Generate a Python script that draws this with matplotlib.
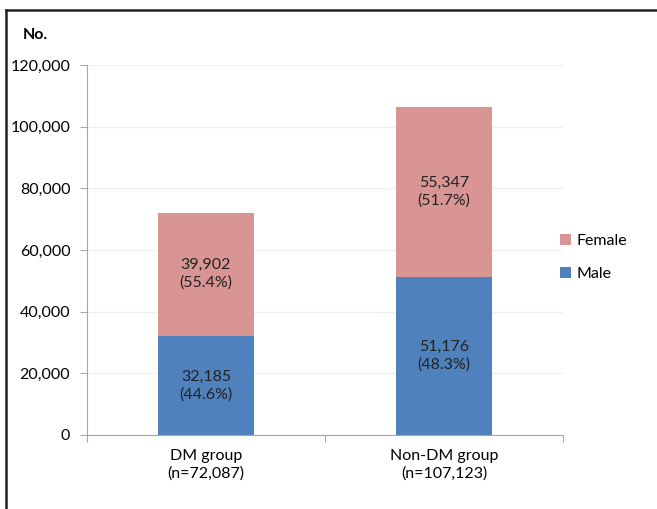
import matplotlib.pyplot as plt
from matplotlib.lines import Line2D

plt.rcParams['font.family'] = ['Lato', 'DejaVu Sans']

groups = ['DM group\n(n=72,087)', 'Non-DM group\n(n=107,123)']
male = [32185, 51176]
female = [39902, 55347]
male_pct = ['44.6%', '48.3%']
female_pct = ['55.4%', '51.7%']
yticks = [0, 20000, 40000, 60000, 80000, 100000, 120000]

male_color = '#4f81bd'
female_color = '#d99594'

fig = plt.figure(figsize=(6.57, 5.09), dpi=100)
ax = fig.add_axes([0.1324, 0.1454, 0.7245, 0.7269])

x = list(range(len(groups)))
ax.bar(x, male, width=0.4, color=male_color, label='Male', zorder=2)
ax.bar(x, female, width=0.4, bottom=male, color=female_color, label='Female', zorder=2)

for i in x:
    ax.text(i, male[i] / 2, f'{male[i]:,}\n({male_pct[i]})', ha='center', va='center',
            fontsize=11.5, color='#222222', linespacing=1.3)
    ax.text(i, male[i] + female[i] / 2, f'{female[i]:,}\n({female_pct[i]})', ha='center',
            va='center', fontsize=11.5, color='#222222', linespacing=1.3)

ax.set_xlim(-0.5, 1.5)
ax.set_ylim(0, 120000)
ax.set_yticks(yticks)
ax.set_yticklabels([f'{v:,}' for v in yticks], fontsize=11.5)
ax.yaxis.grid(True, color='#f0f0f0', linewidth=1, zorder=0)
ax.set_axisbelow(True)

ax.set_xticks([-0.5, 0.5, 1.5])
ax.set_xticklabels([])
ax.set_xticks(x, minor=True)
ax.set_xticklabels(groups, minor=True, fontsize=11.5, linespacing=1.3)
ax.tick_params(axis='x', which='minor', length=0, pad=10)
ax.tick_params(axis='x', which='major', length=5, color='#a6a6a6')
ax.tick_params(axis='y', length=5, color='#a6a6a6', pad=7)

for s in ['top', 'right']:
    ax.spines[s].set_visible(False)
for s in ['left', 'bottom']:
    ax.spines[s].set_color('#a6a6a6')

fig.text(23 / 657, 1 - 35 / 509, 'No.', fontsize=11.5, fontweight='bold', va='center')

handles, labels = ax.get_legend_handles_labels()
ax.legend(handles[::-1], labels[::-1], loc='center left', bbox_to_anchor=(0.964, 0.48),
          frameon=False, fontsize=11.5, handlelength=0.7, handleheight=0.7,
          handletextpad=0.3, labelspacing=1.15)

# outer frame (top and left edges visible in the crop)
fig.add_artist(Line2D([6 / 657, 6 / 657], [0, 1 - 10 / 509], color='#222222', linewidth=1.8,
                      transform=fig.transFigure))
fig.add_artist(Line2D([6 / 657, 1], [1 - 10 / 509, 1 - 10 / 509], color='#222222',
                      linewidth=1.8, transform=fig.transFigure))

fig.savefig('out.png', dpi=100)
